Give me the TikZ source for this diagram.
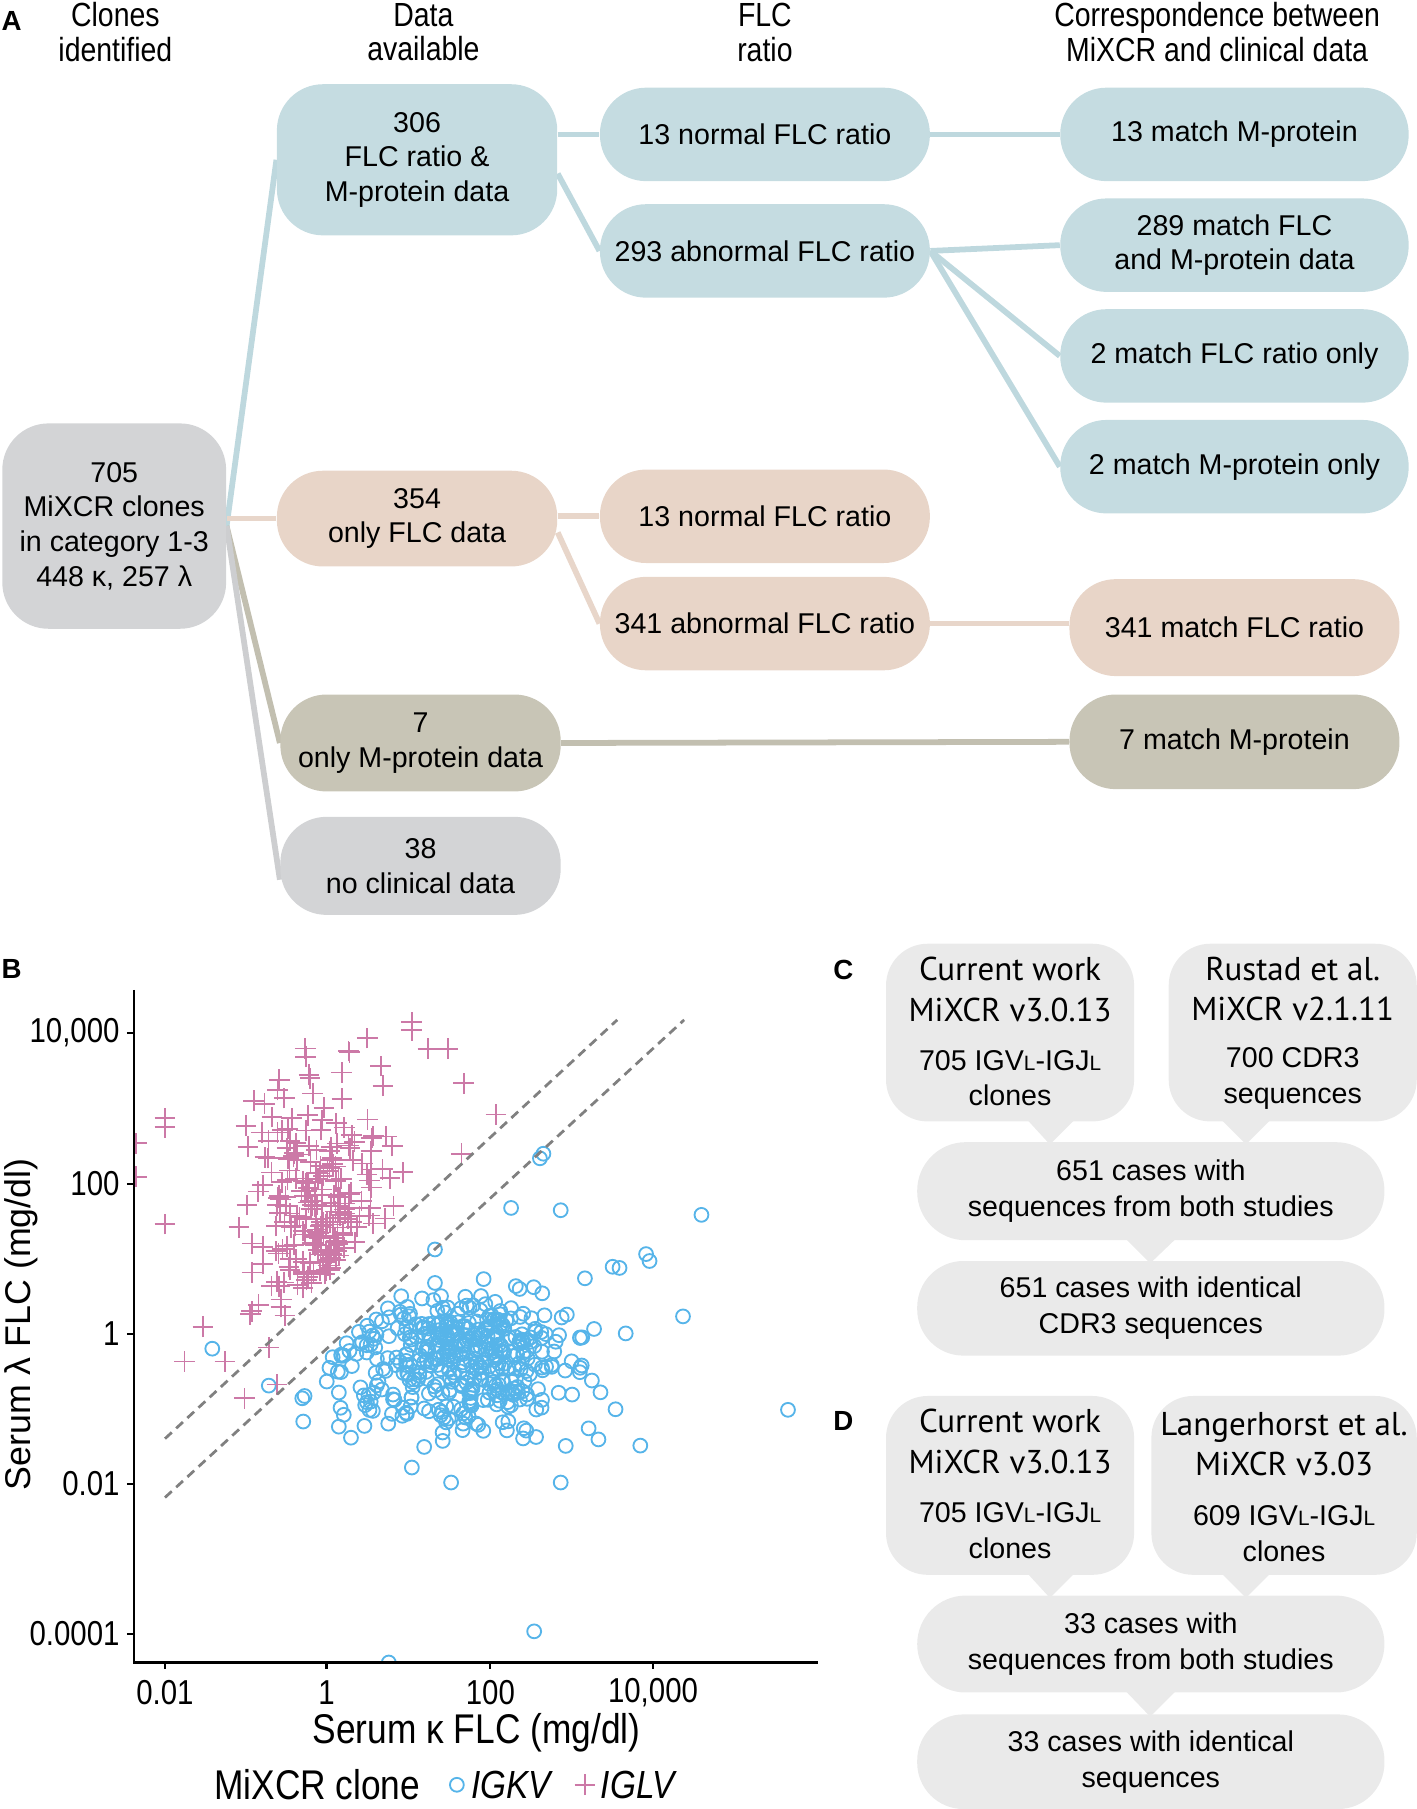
\documentclass[tikz,border=0pt]{standalone}
\usepackage{fontspec}
\setmainfont{Liberation Sans}
\newfontfamily\narrowfont[FakeStretch=0.85]{Liberation Sans}
\newfontfamily\ptfont{PT Sans}
\usetikzlibrary{backgrounds,calc}
\definecolor{cblue}{HTML}{C5DCE1}
\definecolor{lblue}{HTML}{BED8DE}
\definecolor{cpeach}{HTML}{E8D5C8}
\definecolor{lpeach}{HTML}{E8D6CA}
\definecolor{colive}{HTML}{C8C5B6}
\definecolor{lolive}{HTML}{C2BFB0}
\definecolor{cgray}{HTML}{D3D4D6}
\definecolor{lgray}{HTML}{CDCED0}
\definecolor{cbox}{HTML}{EAEAEA}
\definecolor{kvcol}{HTML}{56B4E9}
\definecolor{lvcol}{HTML}{CC79A7}
\newcommand\smL{{\fontsize{9}{9}\selectfont L}}
\begin{document}
\begin{tikzpicture}[x=0.5pt,y=-0.5pt,
 bx/.style={rounded corners=20pt, inner sep=0pt, align=center, font=\fontsize{12.4}{15}\selectfont, text=black},
 dw/.style={minimum width=121.5pt},
 fw/.style={minimum width=143pt, minimum height=40.5pt},
 mw/.style={minimum width=151pt, minimum height=40.5pt},
 conn/.style={line width=2.5pt},
 hdr/.style={font=\narrowfont\fontsize{14.5}{15}\selectfont, align=center, inner sep=0pt},
 plab/.style={font=\bfseries\fontsize{12}{13}\selectfont, inner sep=0pt},
 tick/.style={font=\narrowfont\fontsize{15}{17}\selectfont, inner sep=0pt},
 kv/.style={draw=kvcol, line width=0.8pt},
 lv/.style={draw=lvcol, line width=0.75pt},
 cbx/.style={fill=cbox, rounded corners=18pt, inner sep=0pt},
 ptt/.style={font=\ptfont\fontsize{14.3}{17.5}\selectfont, align=center, inner sep=0pt},
 cbt/.style={font=\fontsize{12.4}{15.5}\selectfont, align=center, inner sep=0pt},
]
\useasboundingbox (0,0) rectangle (1228,1568);

% ---------------- Panel A ----------------
\node[plab] (labA) at (10,18) {A};
\node[hdr] (h1) at (100,28) {Clones\\identified};
\node[hdr] (h2) at (367,28) {Data\\available};
\node[hdr] (h3) at (663,28) {FLC\\ratio};
\node[hdr] (h4) at (1055,28) {Correspondence between\\MiXCR and clinical data};

\node[bx, fill=cgray, minimum width=97pt, minimum height=89pt] (n705) at (99,456) {705\\MiXCR clones\\in category 1-3\\448 κ, 257 λ};
\node[bx, dw, fill=cblue, minimum height=65.5pt] (n306) at (361.5,138.5) {306\\FLC ratio \&\\M-protein data};
\node[bx, fw, fill=cblue] (nN1) at (663,116.5) {13 normal FLC ratio};
\node[bx, fw, fill=cblue] (nA1) at (663,217.5) {293 abnormal FLC ratio};
\node[bx, mw, fill=cblue] (nM1) at (1070,116.5) {13 match M-protein};
\node[bx, mw, fill=cblue] (nM2) at (1070,212.5) {289 match FLC\\and M-protein data};
\node[bx, mw, fill=cblue] (nM3) at (1070,308.5) {2 match FLC ratio only};
\node[bx, mw, fill=cblue] (nM4) at (1070,404.5) {2 match M-protein only};
\node[bx, dw, fill=cpeach, minimum height=41.5pt] (n354) at (361.5,449.5) {354\\only FLC data};
\node[bx, fw, fill=cpeach] (nN2) at (663,447.5) {13 normal FLC ratio};
\node[bx, fw, fill=cpeach] (nA2) at (663,540.5) {341 abnormal FLC ratio};
\node[bx, fw, fill=cpeach, minimum height=42pt] (nM5) at (1070,544) {341 match FLC ratio};
\node[bx, dw, fill=colive, minimum height=42pt] (n7) at (364.5,644) {7\\only M-protein data};
\node[bx, fw, fill=colive, minimum height=41pt] (nM6) at (1070,643) {7 match M-protein};
\node[bx, dw, fill=cgray, minimum height=42.5pt] (n38) at (364.5,750.5) {38\\no clinical data};

\begin{scope}[on background layer]
\draw[conn, lblue] (n705.east) -- (n306.west);
\draw[conn, lpeach] (n705.east |- n354.west) -- (n354.west);
\draw[conn, lolive] (n705.east) -- (n7.west);
\draw[conn, lgray] (n705.east) -- ($(n38.west)+(0,12)$);
\draw[conn, lblue] (n306.east |- nN1.west) -- (nN1.west);
\draw[conn, lblue] ($(n306.east)+(0,12)$) -- (nA1.west);
\draw[conn, lblue] (nN1.east) -- (nM1.west);
\draw[conn, lblue] (nA1.east) -- (nM2.west);
\draw[conn, lblue] (nA1.east) -- (nM3.west);
\draw[conn, lblue] (nA1.east) -- (nM4.west);
\draw[conn, lpeach] (n354.east |- nN2.west) -- (nN2.west);
\draw[conn, lpeach] ($(n354.east)+(0,12)$) -- (nA2.west);
\draw[conn, lpeach] (nA2.east) -- (nA2.east -| nM5.west);
\draw[conn, lolive] (n7.east) -- (nM6.west);
\end{scope}

% ---------------- Panel B ----------------
\node[plab] (labB) at (10,840) {B};
\pgfmathsetseed{2718}
\begin{scope}
\clip (116,850) rectangle (715,1441);
\foreach \i in {1,...,425}{
  \pgfmathsetmacro\pkx{1.7+0.7*(rand+rand+rand)}
  \pgfmathsetmacro\pr{rnd}
  \pgfmathsetmacro\ply{(\pr<0.55) ? (-0.05+0.3*(rand+rand+rand)) : (-0.75+0.32*(rand+rand+rand))}
  \pgfmathsetmacro\ply{(\ply > \pkx-0.35) ? (\pkx-0.35-0.4*rnd) : \ply}
  \draw[kv] ({283+70.7*\pkx},{1156-65*\ply}) circle[radius=3pt];
}
\foreach \px/\py in {683/1222,608/1053,592/1141,463/1414,337/1441,471/1000,468/1004,443/1047,486/1049,555/1253,486/1285,391/1285,357/1272,184/1169,233/1201,264/1210,262/1212,560/1087,563/1093,531/1098,537/1099,470/1121,507/1108,377/1083,377/1112}{
  \draw[kv] (\px,\py) circle[radius=3pt];
}
\foreach \i in {1,...,235}{
  \pgfmathsetmacro\pkx{-0.15+0.42*(rand+rand+rand)}
  \pgfmathsetmacro\ply{1.5+1.0*(rand+rand+rand)}
  \pgfmathsetmacro\ply{(\ply < \pkx+0.75) ? (\pkx+0.75+0.8*rnd) : \ply}
  \draw[lv] ({283+70.7*\pkx},{1156-65*\ply}) ++(-4.5pt,0) -- ++(9pt,0) ++(-4.5pt,-4.5pt) -- ++(0,9pt);
}
\foreach \px/\py in {143/1061,143/969,143/977,118/991,118/1020,357/886,357/893,388/909,371/909,402/939,430/966,400/1000,303/912,302/911,265/916,330/924,332/941,242/936,220/954,195/1180,160/1180,240/1200,212/1212,233/1168,176/1150}{
  \draw[lv] (\px,\py) ++(-4.5pt,0) -- ++(9pt,0) ++(-4.5pt,-4.5pt) -- ++(0,9pt);
}
\end{scope}
\coordinate (d1a) at (143,1247);
\coordinate (d1b) at (535,884);
\coordinate (d2a) at (143,1298);
\coordinate (d2b) at (593,884);
\draw[gray, line width=1.2pt, dash pattern=on 4pt off 2.6pt] (d1a) -- (d1b);
\draw[gray, line width=1.2pt, dash pattern=on 4pt off 2.6pt] (d2a) -- (d2b);
\draw[line width=1pt] (116,858) -- (116,1441) -- (709,1441);
\foreach \v/\lab in {895/{10,000},1026/100,1156/1,1286/0.01,1416/0.0001}{
  \draw[line width=0.9pt] (110,\v) -- (116,\v);
  \node[tick, anchor=east] (yt\v) at (104,\v) {\lab};
}
\foreach \v/\lab in {143/0.01,283/1,425/100,566/{10,000}}{
  \draw[line width=0.9pt] (\v,1441) -- (\v,1447);
  \node[tick] (xt\v) at (\v,1467) {\lab};
}
\node[font=\narrowfont\fontsize{18}{20}\selectfont, inner sep=0pt] (xtitle) at (413,1502) {Serum κ FLC (mg/dl)};
\node[font=\fontsize{15.5}{18}\selectfont, inner sep=0pt, rotate=90] (ytitle) at (18,1148) {Serum λ FLC (mg/dl)};
\node[font=\narrowfont\fontsize{18}{20}\selectfont, inner sep=0pt] (legt) at (275,1547) {MiXCR clone};
\draw[kv] (396,1547) circle[radius=3pt];
\node[font=\narrowfont\itshape\fontsize{17}{20}\selectfont, inner sep=0pt] (legk) at (443,1547) {IGKV};
\draw[lv] (507,1547) ++(-4.5pt,0) -- ++(9pt,0) ++(-4.5pt,-4.5pt) -- ++(0,9pt);
\node[font=\narrowfont\itshape\fontsize{17}{20}\selectfont, inner sep=0pt] (legl) at (553,1547) {IGLV};

% ---------------- Panel C ----------------
\node[plab] (labC) at (731,841) {C};
\fill[cbox] (888,968) -- (910,992) -- (934,968) -- cycle;
\fill[cbox] (1056,968) -- (1080,992) -- (1104,968) -- cycle;
\fill[cbox] (974,1072) -- (997,1095) -- (1021,1072) -- cycle;
\node[cbx, minimum width=107.5pt, minimum height=77pt] (cL) at (875.5,895) {};
\node[cbx, minimum width=107.5pt, minimum height=77pt] (cR) at (1120.5,895) {};
\node[cbx, rounded corners=21pt, minimum width=202.5pt, minimum height=42.5pt] (cM) at (997.5,1032.5) {};
\node[cbx, rounded corners=20pt, minimum width=202.5pt, minimum height=41pt] (cB) at (997.5,1134) {};
\node[ptt] (cL1) at (875.5,857.5) {Current work\\MiXCR v3.0.13};
\node[cbt] (cL2) at (875.5,934.5) {705 IGV\smL-IGJ\smL\\clones};
\node[ptt] (cR1) at (1120.5,857.5) {Rustad et al.\\MiXCR v2.1.11};
\node[cbt] (cR2) at (1120.5,934.5) {700 CDR3\\sequences};
\node[cbt] (cMt) at (cM) {651 cases with\\sequences from both studies};
\node[cbt] (cBt) at (cB) {651 cases with identical\\CDR3 sequences};

% ---------------- Panel D ----------------
\node[plab] (labD) at (731,1232) {D};
\fill[cbox] (888,1361) -- (910,1385) -- (934,1361) -- cycle;
\fill[cbox] (1056,1361) -- (1080,1385) -- (1104,1361) -- cycle;
\fill[cbox] (974,1464) -- (997,1488) -- (1021,1464) -- cycle;
\node[cbx, minimum width=107.5pt, minimum height=77.5pt] (dL) at (875.5,1287.5) {};
\node[cbx, minimum width=115pt, minimum height=77.5pt] (dR) at (1113,1287.5) {};
\node[cbx, rounded corners=21pt, minimum width=202.5pt, minimum height=42pt] (dM) at (997.5,1425) {};
\node[cbx, rounded corners=20pt, minimum width=202.5pt, minimum height=41pt] (dB) at (997.5,1527) {};
\node[ptt] (dL1) at (875.5,1249.5) {Current work\\MiXCR v3.0.13};
\node[cbt] (dL2) at (875.5,1326.5) {705 IGV\smL-IGJ\smL\\clones};
\node[ptt] (dR1) at (1113,1251.5) {Langerhorst et al.\\MiXCR v3.03};
\node[cbt] (dR2) at (1113,1329.5) {609 IGV\smL-IGJ\smL\\clones};
\node[cbt] (dMt) at (dM) {33 cases with\\sequences from both studies};
\node[cbt] (dBt) at (dB) {33 cases with identical\\sequences};
\end{tikzpicture}
\end{document}
